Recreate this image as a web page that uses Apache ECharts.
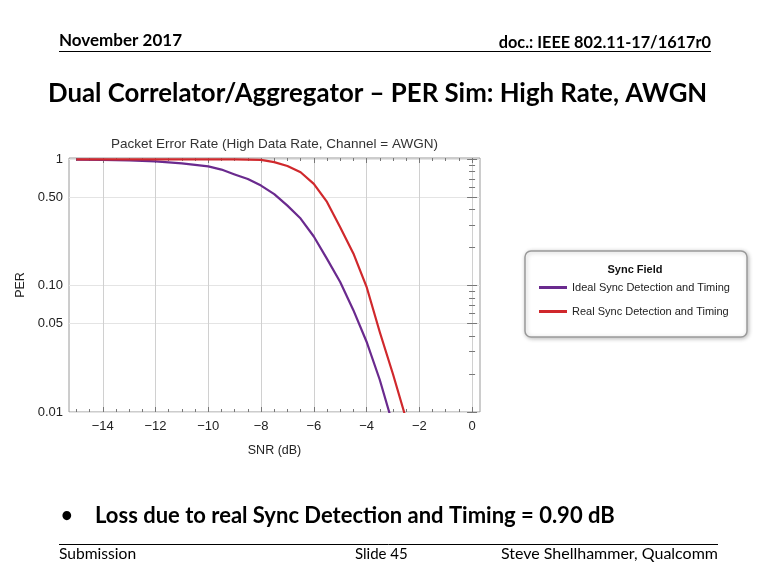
<!DOCTYPE html>
<html>
<head>
<meta charset="utf-8">
<script src="https://cdn.jsdelivr.net/npm/echarts@6/dist/echarts.min.js"></script>
<style>
html,body{margin:0;padding:0;background:#fff;}
#c{width:768px;height:576px;}
</style>
</head>
<body>
<div id="c"></div>
<script>
// ---- data ----
const snr = [-15, -14, -13, -12, -11, -10, -9.5, -9, -8.5, -8, -7.5, -7, -6.5, -6, -5.5, -5, -4.5, -4, -3.5, -3, -2.5];
const idealPER = [0.995, 0.99, 0.98, 0.965, 0.93, 0.88, 0.83, 0.76, 0.70, 0.62, 0.53, 0.43, 0.34, 0.245, 0.163, 0.107, 0.064, 0.036, 0.018, 0.0079, null];
const realPER = [0.999, 0.999, 0.999, 0.999, 0.999, 0.999, 0.999, 0.998, 0.995, 0.99, 0.95, 0.885, 0.79, 0.64, 0.46, 0.29, 0.18, 0.098, 0.043, 0.02, 0.0088];
const seriesNames = ['Ideal Sync Detection and Timing', 'Real Sync Detection and Timing'];
const xMajorTicks = [-14, -12, -10, -8, -6, -4, -2, 0];
const xMinorTicks = [-15, -14.5, -13.5, -13, -12.5, -11.5, -11, -10.5, -9.5, -9, -8.5, -7.5, -7, -6.5, -5.5, -5, -4.5, -3.5, -3, -2.5, -1.5, -1, -0.5];
const yMajorTicks = [0.01, 0.05, 0.1, 0.5, 1];
const yTickLabels = ['0.01', '0.05', '0.10', '0.50', '1'];
const yMinorTicks = [0.02, 0.03, 0.04, 0.06, 0.07, 0.08, 0.09, 0.2, 0.3, 0.4, 0.6, 0.7, 0.8, 0.9];

const chart = echarts.init(document.getElementById('c'), null, {renderer: 'canvas'});
const XMIN = -15.28, XMAX = 0.3, YMIN = 0.01, YMAX = 1.025;
const axisFont = {fontFamily: 'Liberation Sans', fontSize: 13, color: '#222'};
const slideFont = 'Lato';

function xAxisDef(pos, ticks, len, labels) {
  return {
    type: 'value', min: XMIN, max: XMAX, position: pos,
    axisLine: {show: false},
    axisTick: {show: true, inside: true, length: len, customValues: ticks, lineStyle: {color: '#777', width: 1}},
    axisLabel: labels ? Object.assign({show: true, customValues: ticks, margin: 8,
      formatter: v => String(v).replace('-', '\u2212')}, axisFont) : {show: false},
    splitLine: labels ? {show: true, lineStyle: {color: '#d0d0d0', width: 1}} : {show: false},
    name: labels ? 'SNR (dB)' : '', nameLocation: 'middle', nameGap: 32,
    nameTextStyle: {fontFamily: 'Liberation Sans', fontSize: 12.5, color: '#222'}
  };
}
function yAxisDef(pos, ticks, len, labels) {
  return {
    type: 'log', logBase: 10, min: YMIN, max: YMAX, position: pos,
    axisLine: {show: false},
    axisTick: {show: true, inside: true, length: len, customValues: ticks, lineStyle: {color: '#777', width: 1}},
    axisLabel: labels ? Object.assign({show: true, customValues: ticks, margin: 6,
      formatter: v => yTickLabels[yMajorTicks.findIndex(t => Math.abs(t - v) < 1e-9)] || ''}, axisFont) : {show: false},
    splitLine: labels ? {show: true, lineStyle: {color: '#e4e4e4', width: 1}} : {show: false},
    name: labels ? 'PER' : '', nameLocation: 'middle', nameGap: 40, nameRotate: 90,
    nameTextStyle: {fontFamily: 'Liberation Sans', fontSize: 12.5, color: '#222'}
  };
}

const option = {
  backgroundColor: '#fff',
  animation: false,
  title: {
    text: 'Packet Error Rate (High Data Rate, Channel = AWGN)',
    left: 269.5, top: 132, textAlign: 'center',
    textStyle: {fontFamily: 'Liberation Sans', fontSize: 13.5, fontWeight: 'normal', color: '#333'}
  },
  grid: {left: 69, right: 288, top: 158, bottom: 164, show: true, borderColor: '#9a9a9a', borderWidth: 1, backgroundColor: 'transparent'},
  xAxis: [
    xAxisDef('bottom', xMajorTicks, 5, true),
    xAxisDef('bottom', xMinorTicks, 3, false),
    xAxisDef('top', xMajorTicks, 5, false),
    xAxisDef('top', xMinorTicks, 3, false)
  ],
  yAxis: [
    yAxisDef('left', yMajorTicks, 5, true),
    yAxisDef('left', yMinorTicks, 3, false),
    yAxisDef('right', yMajorTicks, 5, false),
    yAxisDef('right', yMinorTicks, 3, false)
  ],
  legend: {
    data: seriesNames, orient: 'vertical', left: 534, top: 277,
    icon: 'rect', itemWidth: 28, itemHeight: 3, itemGap: 13, z: 10,
    textStyle: {fontFamily: 'Liberation Sans', fontSize: 11, color: '#222'}
  },
  series: [
    {name: seriesNames[0], type: 'line', xAxisIndex: 0, yAxisIndex: 0, showSymbol: false, clip: true,
     data: snr.map((x, i) => [x, idealPER[i]]), lineStyle: {color: '#6a2a8e', width: 2.2, join: 'round'}, itemStyle: {color: '#6a2a8e'}},
    {name: seriesNames[1], type: 'line', xAxisIndex: 0, yAxisIndex: 0, showSymbol: false, clip: true,
     data: snr.map((x, i) => [x, realPER[i]]), lineStyle: {color: '#d0282c', width: 2.2, join: 'round'}, itemStyle: {color: '#d0282c'}}
  ],
  graphic: [
    {type: 'rect', z: 1, shape: {x: 525, y: 251, width: 222, height: 86, r: 6},
     style: {fill: '#fff', stroke: '#9a9a9a', lineWidth: 1.5, shadowBlur: 4, shadowColor: 'rgba(0,0,0,0.25)', shadowOffsetX: 1, shadowOffsetY: 1}},
    {type: 'text', z: 2, x: 635, y: 270, style: {text: 'Sync Field', fontFamily: 'Liberation Sans', fontSize: 11, fontWeight: 'bold', fill: '#111', align: 'center', verticalAlign: 'middle'}},
    // slide header
    {type: 'text', x: 59, y: 41, style: {text: 'November 2017', fontFamily: slideFont, fontSize: 17, fontWeight: 'bold', fill: '#000', verticalAlign: 'middle'}},
    {type: 'text', x: 711, y: 43, style: {text: 'doc.: IEEE 802.11-17/1617r0', fontFamily: slideFont, fontSize: 16.3, fontWeight: 'bold', fill: '#000', align: 'right', verticalAlign: 'middle'}},
    {type: 'line', shape: {x1: 59, y1: 51.5, x2: 711, y2: 51.5}, style: {stroke: '#000', lineWidth: 1}},
    {type: 'text', x: 48, y: 94, style: {text: 'Dual Correlator/Aggregator \u2013 PER Sim: High Rate, AWGN', fontFamily: slideFont, fontSize: 25.8, fontWeight: 'bold', fill: '#000', verticalAlign: 'middle'}},
    // bullet
    {type: 'text', x: 61, y: 516, style: {text: '\u2022', fontFamily: slideFont, fontSize: 20, fontWeight: 'bold', fill: '#000', verticalAlign: 'middle'}},
    {type: 'text', x: 95, y: 516, style: {text: 'Loss due to real Sync Detection and Timing = 0.90 dB', fontFamily: slideFont, fontSize: 22, fontWeight: 'bold', fill: '#000', verticalAlign: 'middle'}},
    // footer
    {type: 'line', shape: {x1: 59, y1: 544.5, x2: 718, y2: 544.5}, style: {stroke: '#000', lineWidth: 1}},
    {type: 'text', x: 59, y: 554, style: {text: 'Submission', fontFamily: slideFont, fontSize: 15.6, fill: '#000', verticalAlign: 'middle'}},
    {type: 'text', x: 355, y: 554, style: {text: 'Slide 45', fontFamily: slideFont, fontSize: 15, fill: '#000', verticalAlign: 'middle'}},
    {type: 'text', x: 718, y: 554, style: {text: 'Steve Shellhammer, Qualcomm', fontFamily: slideFont, fontSize: 16, fill: '#000', align: 'right', verticalAlign: 'middle'}}
  ]
};
chart.setOption(option);
</script>
</body>
</html>
